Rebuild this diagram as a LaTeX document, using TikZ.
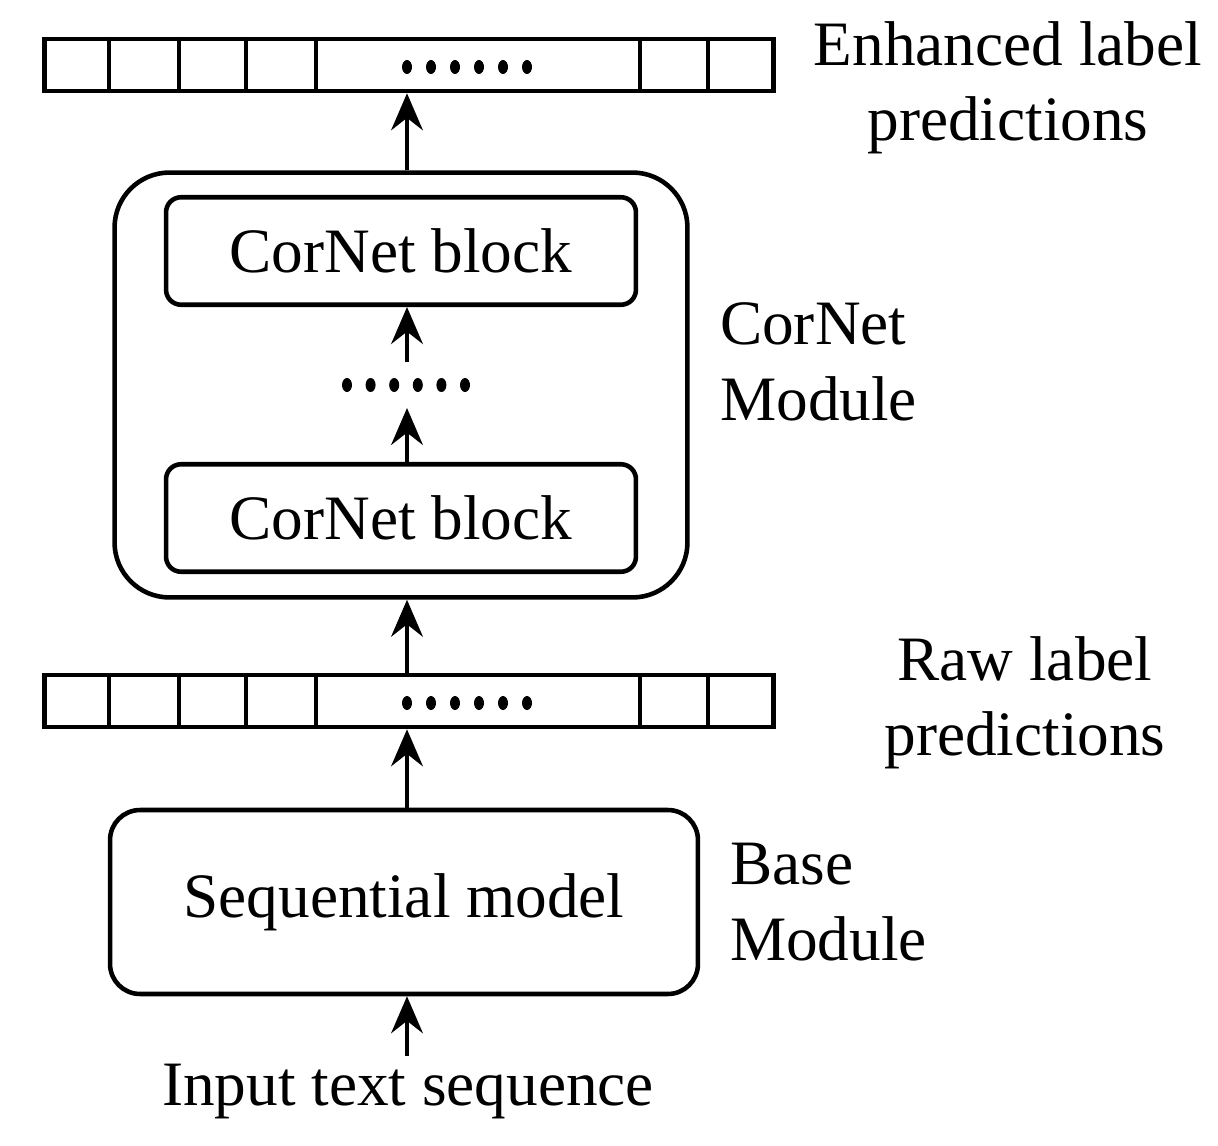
\documentclass[tikz,border=0pt]{standalone}
\usepackage{fontspec}
\setmainfont{Liberation Serif}
\usepackage{tikz}
\usetikzlibrary{arrows.meta}

\begin{document}
\begin{tikzpicture}[x=0.02cm, y=-0.02cm, line width=2.6pt,
		every node/.style={font=\fontsize{36}{43}\selectfont},
		bar/.style={draw, inner sep=0, minimum width=14.58cm, minimum height=1.04cm},
		block/.style={draw, rounded corners=0.3cm, inner sep=0, minimum width=9.4cm, minimum height=2.15cm},
		arr/.style={-{Stealth[length=21pt, width=18pt, inset=7pt]}, line width=2.5pt}]
			\useasboundingbox (0,0) rectangle (1218,1146);
			\coordinate (axis) at (407,0);
			% label bars
			\node[bar] (enh) at (409,65) {};
			\node[bar] (raw) at (409,701) {};
			\foreach \b in {enh,raw} {
				\foreach \x in {109,179,246,316,640,708}
					\draw (\b.north -| \x,0) -- (\b.south -| \x,0);
			}
			\foreach \i in {0,...,5} {
				\fill (407+24*\i,67) ellipse (0.1cm and 0.14cm);
				\fill (407+24*\i,703) ellipse (0.1cm and 0.14cm);
				\fill (347+23.6*\i,385) ellipse (0.1cm and 0.14cm);
			}
			% modules
			\node[draw, rounded corners=1.1cm, inner sep=0, minimum width=11.46cm, minimum height=8.5cm] (mod) at (401,385) {};
			\node[block] (blkA) at (401,251) {CorNet block};
			\node[block] (blkB) at (401,518) {CorNet block};
			\node[draw, rounded corners=0.6cm, inner sep=0, minimum width=11.76cm, minimum height=3.68cm] (base) at (404,902) {Sequential model};
			\node (input) at (408,1092) {Input text sequence};
			\coordinate (dotsT) at (407,362);
			\coordinate (dotsB) at (407,408);
			% arrows
			\draw[arr] (input.north -| axis) -- (base.south -| axis);
			\draw[arr] (base.north -| axis) -- (raw.south -| axis);
			\draw[arr] (raw.north -| axis) -- (mod.south -| axis);
			\draw[arr] (blkB.north -| dotsB) -- (dotsB);
			\draw[arr] (dotsT) -- (blkA.south -| dotsT);
			\draw[arr] (mod.north -| axis) -- (enh.south -| axis);
			% side labels
			\node[align=center] at (1008,88) {Enhanced label\\predictions};
			\node[align=left, anchor=west] at (712,362) {CorNet\\Module};
			\node[align=center] at (1025,703) {Raw label\\predictions};
			\node[align=left, anchor=west] at (722,902) {Base\\Module};
		\end{tikzpicture}
\end{document}
